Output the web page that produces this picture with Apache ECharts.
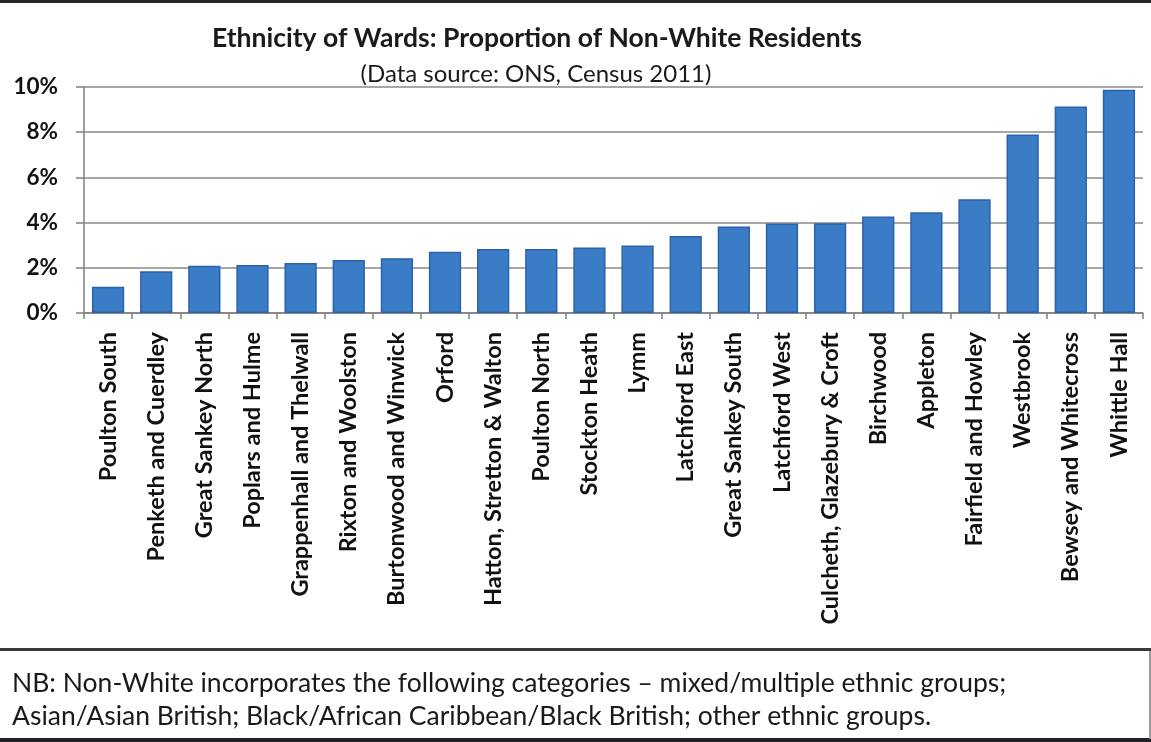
<!DOCTYPE html>
<html>
<head>
<meta charset="utf-8">
<script src="https://cdn.jsdelivr.net/npm/echarts@6/dist/echarts.min.js"></script>
<style>
html,body{margin:0;padding:0;background:#fff;}
#c{width:1151px;height:742px;}
</style>
</head>
<body>
<div id="c"></div>
<script>
const categories = ["Poulton South","Penketh and Cuerdley","Great Sankey North","Poplars and Hulme","Grappenhall and Thelwall","Rixton and Woolston","Burtonwood and Winwick","Orford","Hatton, Stretton & Walton","Poulton North","Stockton Heath","Lymm","Latchford East","Great Sankey South","Latchford West","Culcheth, Glazebury & Croft","Birchwood","Appleton","Fairfield and Howley","Westbrook","Bewsey and Whitecross","Whittle Hall"];
const values = [1.16,1.85,2.09,2.12,2.21,2.35,2.42,2.71,2.83,2.83,2.90,2.99,3.41,3.83,3.96,3.97,4.27,4.46,5.03,7.90,9.14,9.88];
const titleText = "Ethnicity of Wards: Proportion of Non-White Residents";
const subtitleText = "(Data source: ONS, Census 2011)";
const noteLines = ["NB: Non-White incorporates the following categories \u2013 mixed/multiple ethnic groups;","Asian/Asian British; Black/African Caribbean/Black British; other ethnic groups."];

const chart = echarts.init(document.getElementById('c'), null, {renderer:'canvas'});
const FONT = 'Lato, "Open Sans", sans-serif';
chart.setOption({
  backgroundColor:'#ffffff',
  animation:false,
  title:[
    {text:titleText,left:532,top:20,textAlign:'center',textStyle:{fontFamily:FONT,fontWeight:'bold',fontSize:26.5,color:'#1a1a1a'}},
    {text:subtitleText,left:531,top:57,textAlign:'center',textStyle:{fontFamily:FONT,fontWeight:'normal',fontSize:24,color:'#1a1a1a'}}
  ],
  grid:{left:84,right:8,top:87,bottom:429,containLabel:false},
  xAxis:{
    type:'category',data:categories,
    axisLine:{lineStyle:{color:'#808080',width:1.5}},
    axisTick:{show:true,length:6,lineStyle:{color:'#808080',width:1.5}},
    axisLabel:{rotate:90,margin:19,interval:0,fontFamily:FONT,fontWeight:'bold',fontSize:23.5,color:'#111'}
  },
  yAxis:{
    type:'value',min:0,max:10,interval:2,
    axisLine:{show:true,lineStyle:{color:'#808080',width:1.5}},
    axisTick:{show:true,length:8,lineStyle:{color:'#808080',width:1.5}},
    splitLine:{lineStyle:{color:'#8a8a8a',width:1.5}},
    axisLabel:{formatter:'{value}%',margin:26,fontFamily:FONT,fontWeight:'bold',fontSize:22.5,color:'#111'}
  },
  series:[{
    type:'bar',data:values,barWidth:'67%',
    itemStyle:{color:'#3b7cc6',borderColor:'#2a62ab',borderWidth:1.5}
  }],
  graphic:[
    {type:'rect',shape:{x:0,y:0,width:1151,height:3},style:{fill:'#262626'}},
    {type:'rect',shape:{x:0,y:648,width:1151,height:3},style:{fill:'#3a3a3a'}},
    {type:'rect',shape:{x:0,y:738,width:1151,height:4},style:{fill:'#1e2228'}},
    {type:'rect',shape:{x:1149,y:651,width:2,height:88},style:{fill:'#9a9a9a'}},
    {type:'text',left:12,top:667,style:{text:noteLines.join('\n'),fontFamily:FONT,fontSize:26.5,lineHeight:33,fill:'#1a1a1a'}}
  ]
});
</script>
</body>
</html>
